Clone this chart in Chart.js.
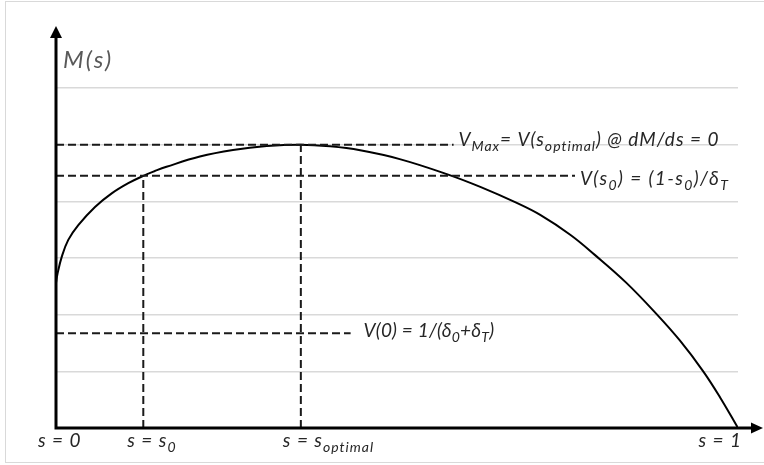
<!DOCTYPE html>
<html>
<head>
<meta charset="utf-8">
<script src="https://cdn.jsdelivr.net/npm/chart.js@4"></script>
<style>
  html, body { margin: 0; padding: 0; background: #ffffff; }
  #wrap { position: relative; width: 764px; height: 465px; }
</style>
</head>
<body>
<div id="wrap"><canvas id="c" width="764" height="465"></canvas></div>
<script>
// ---- data ----
const sValues = [0, 0.0022, 0.0084, 0.018, 0.0327, 0.0572, 0.0817, 0.106, 0.128, 0.145, 0.162, 0.211, 0.2595, 0.309, 0.359,
                 0.402, 0.446, 0.504, 0.573, 0.623, 0.674, 0.710, 0.754, 0.790, 0.836, 0.881, 0.915, 0.949, 0.974, 1.0];
const mValues = [2.56, 2.72, 3.02, 3.32, 3.58, 3.90, 4.14, 4.32, 4.45, 4.535, 4.61, 4.79, 4.905, 4.975, 5.0,
                 4.97, 4.90, 4.745, 4.48, 4.25, 3.98, 3.76, 3.41, 3.055, 2.565, 2.005, 1.54, 1.0, 0.535, 0];

// reference (dashed) levels: V_Max, V(s0), V(0)
const refLevels = [5.0, 4.45, 1.67];
const refLineEnds = [0.583, 0.761, 0.432];
// vertical markers: s0, s_optimal
const sMarks = [0.128, 0.359];
const sMarkHeights = [4.45, 5.0];
// x tick positions
const xTickValues = [0, 0.128, 0.359, 1];

const yMin = 0, yMax = 6, yStep = 1;

const AXIS_COLOR = '#000000';
const DASH_COLOR = '#1a1a1a';
const TEXT_COLOR = '#262626';
const FONT = 'Lato, "Open Sans", "Liberation Sans", sans-serif';

// build datasets
const curveData = sValues.map((s, i) => ({ x: s, y: mValues[i] }));
const dashStyle = { borderColor: DASH_COLOR, borderWidth: 2, borderDash: [8, 4], pointRadius: 0, showLine: true, fill: false, tension: 0 };
const datasets = [];
refLevels.forEach((v, i) => {
  datasets.push(Object.assign({ data: [{ x: 0, y: v }, { x: refLineEnds[i], y: v }] }, dashStyle));
});
sMarks.forEach((s, i) => {
  datasets.push(Object.assign({ data: [{ x: s, y: 0 }, { x: s, y: sMarkHeights[i] }] }, dashStyle));
});
datasets.push({
  data: curveData,
  borderColor: '#000000',
  borderWidth: 2,
  pointRadius: 0,
  showLine: true,
  fill: false,
  tension: 0.4
});

// text helper: parts = [[text, isSub], ...]
function drawRich(ctx, x, y, parts, size, color, align, spacing) {
  const subSize = Math.round(size * 0.74);
  const sp = (spacing === undefined ? 1 : spacing) + 'px';
  ctx.letterSpacing = sp;
  let total = 0;
  const widths = parts.map(p => {
    ctx.font = 'italic ' + (p[1] ? subSize : size) + 'px ' + FONT;
    const w = ctx.measureText(p[0]).width;
    total += w;
    return w;
  });
  let cx = align === 'right' ? x - total : x;
  ctx.fillStyle = color;
  ctx.textBaseline = 'alphabetic';
  ctx.textAlign = 'left';
  parts.forEach((p, i) => {
    ctx.font = 'italic ' + (p[1] ? subSize : size) + 'px ' + FONT;
    ctx.fillText(p[0], cx, p[1] ? y + 5 : y);
    cx += widths[i];
  });
  ctx.letterSpacing = '0px';
}

const overlay = {
  id: 'overlay',
  afterDraw(chart) {
    const ctx = chart.ctx;
    const xs = chart.scales.x, ys = chart.scales.y;
    const x0 = xs.getPixelForValue(0);
    const y0 = ys.getPixelForValue(0);
    ctx.save();
    // outer frame
    ctx.strokeStyle = '#d9d9d9';
    ctx.lineWidth = 1;
    ctx.strokeRect(5.5, 1.5, 770, 461);

    // axes
    ctx.strokeStyle = AXIS_COLOR;
    ctx.fillStyle = AXIS_COLOR;
    ctx.lineWidth = 3;
    ctx.beginPath();
    ctx.moveTo(x0, y0 + 1.5);
    ctx.lineTo(x0, 36);
    ctx.moveTo(x0 - 1.5, y0);
    ctx.lineTo(752, y0);
    ctx.stroke();
    // arrow heads
    ctx.beginPath();
    ctx.moveTo(x0, 26);
    ctx.lineTo(x0 - 6, 38);
    ctx.lineTo(x0 + 6, 38);
    ctx.closePath();
    ctx.fill();
    ctx.beginPath();
    ctx.moveTo(763, y0);
    ctx.lineTo(751, y0 - 5.5);
    ctx.lineTo(751, y0 + 5.5);
    ctx.closePath();
    ctx.fill();

    // y axis title
    ctx.letterSpacing = '2px';
    ctx.font = 'italic 24px ' + FONT;
    ctx.fillStyle = '#595959';
    ctx.textAlign = 'left';
    ctx.textBaseline = 'alphabetic';
    ctx.fillText('M(s)', x0 + 7, 68);
    ctx.letterSpacing = '0px';

    // x tick labels
    const base = y0 + 19;
    const px = xTickValues.map(v => xs.getPixelForValue(v));
    drawRich(ctx, px[0] - 18, base, [['s = 0', false]], 19, TEXT_COLOR);
    drawRich(ctx, px[1] - 16, base, [['s = s', false], ['0', true]], 19, TEXT_COLOR);
    drawRich(ctx, px[2] - 18, base, [['s = s', false], ['optimal', true]], 19, TEXT_COLOR);
    drawRich(ctx, px[3] + 4, base, [['s = 1', false]], 19, TEXT_COLOR, 'right');

    // annotations
    const aX = refLineEnds.map(v => xs.getPixelForValue(v));
    const aY = refLevels.map(v => ys.getPixelForValue(v));
    drawRich(ctx, aX[0] + 5, aY[0] + 1,
      [['V', false], ['Max', true], ['= V(s', false], ['optimal', true], [') @ dM/ds = 0', false]], 19, TEXT_COLOR);
    drawRich(ctx, aX[1] + 5, aY[1] + 9,
      [['V(s', false], ['0', true], [') = (1-s', false], ['0', true], [')/δ', false], ['T', true]], 19, TEXT_COLOR, 'left', 1.4);
    drawRich(ctx, aX[2] + 13, aY[2] + 4,
      [['V(0) = 1/(δ', false], ['0', true], ['+δ', false], ['T', true], [')', false]], 19, TEXT_COLOR, 'left', 0.2);
    ctx.restore();
  }
};

new Chart(document.getElementById('c'), {
  type: 'scatter',
  data: { datasets },
  options: {
    responsive: false,
    animation: false,
    devicePixelRatio: 1,
    layout: { padding: { left: 56, right: 26, top: 88, bottom: 37 } },
    plugins: { legend: { display: false }, tooltip: { enabled: false } },
    scales: {
      x: {
        type: 'linear', min: 0, max: 1, display: false
      },
      y: {
        type: 'linear', min: yMin, max: yMax,
        ticks: { display: false, stepSize: yStep },
        border: { display: false },
        grid: { color: '#d9d9d9', lineWidth: 1.5, drawTicks: false }
      }
    }
  },
  plugins: [overlay]
});
</script>
</body>
</html>
